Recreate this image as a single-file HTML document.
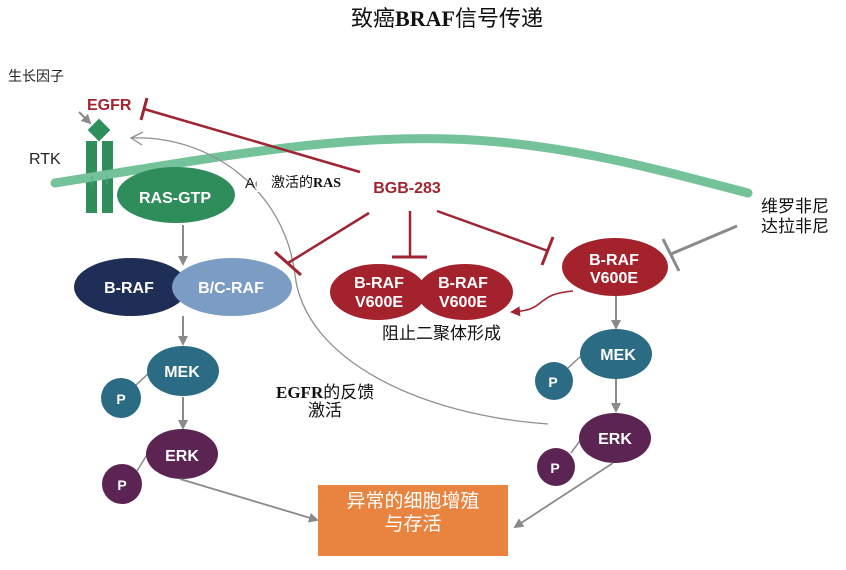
<!DOCTYPE html>
<html><head><meta charset="utf-8">
<style>
html,body{margin:0;padding:0;background:#fff;}
svg{display:block;}
.cj{font-family:"Liberation Sans","Noto Sans CJK SC",sans-serif;}
.nb{font-family:"Liberation Sans",Arial,sans-serif;font-weight:bold;fill:#fff;}
.tb{font-family:"Liberation Serif",serif;font-weight:bold;}
</style></head>
<body>
<svg width="846" height="570" viewBox="0 0 846 570" xmlns="http://www.w3.org/2000/svg">
<defs>
<marker id="ga" markerWidth="10" markerHeight="10" refX="8" refY="5" orient="auto" markerUnits="userSpaceOnUse">
<path d="M0,0 L10,5 L0,10 z" fill="#8a8a8a"/>
</marker>
<marker id="ra" markerWidth="10" markerHeight="10" refX="8" refY="5" orient="auto" markerUnits="userSpaceOnUse">
<path d="M0,0 L10,5 L0,10 z" fill="#a3222c"/>
</marker>
</defs>

<!-- title -->
<text x="447" y="26" text-anchor="middle" font-size="22" class="cj" fill="#111">致癌<tspan class="tb">BRAF</tspan>信号传递</text>

<!-- 生长因子 -->
<text x="8" y="81" font-size="14" class="cj" fill="#222">生长因子</text>

<!-- EGFR label -->
<text x="87" y="110" font-size="16" font-family="Liberation Sans,Arial,sans-serif" font-weight="bold" fill="#a3242e">EGFR</text>
<!-- small gray arrow -->
<line x1="79" y1="112" x2="90" y2="123" stroke="#8a8a8a" stroke-width="2" marker-end="url(#ga)"/>

<!-- RTK -->
<text x="29" y="164" font-size="16" font-family="Liberation Sans,Arial,sans-serif" fill="#222">RTK</text>

<!-- receptor bars -->
<rect x="86" y="141" width="11" height="72" fill="#2f8f5c"/>
<rect x="102" y="141" width="11" height="72" fill="#2f8f5c"/>
<rect x="91" y="122" width="16" height="16" fill="#2f8f5c" transform="rotate(45 99 130)"/>

<!-- membrane -->
<path d="M55,183 C200,160 330,135 450,139 C560,142 660,170 748,193" fill="none" stroke="#74c29a" stroke-width="9" stroke-linecap="round"/>
<line x1="92" y1="176" x2="92" y2="185" stroke="#5aa57e" stroke-width="1"/>
<line x1="107" y1="175" x2="107" y2="184" stroke="#5aa57e" stroke-width="1"/>

<!-- RAS-GTP -->
<ellipse cx="176" cy="195" rx="59" ry="28" fill="#2f8c5b"/>
<text x="175" y="203" text-anchor="middle" font-size="16" class="nb">RAS-GTP</text>

<!-- EGFR inhibitor (red) -->
<line x1="144" y1="109" x2="360" y2="172" stroke="#9e2531" stroke-width="2.5"/>
<line x1="141" y1="120" x2="147" y2="98" stroke="#9e2531" stroke-width="3"/>

<!-- gray feedback curve -->
<path d="M132,138 C210,135 285,190 295,275 C305,360 420,415 548,424" fill="none" stroke="#8f8f8f" stroke-width="1.3"/>
<path d="M143,132 L131,138 L142,145" fill="none" stroke="#8f8f8f" stroke-width="1.3"/>

<!-- Ac 激活的RAS -->
<text x="245" y="188" font-size="15" font-family="Liberation Sans,Arial,sans-serif" fill="#222">Ac</text>
<rect x="256.5" y="172" width="14" height="20" fill="#fff"/>
<text x="271" y="187" font-size="14" class="cj" fill="#111">激活的<tspan class="tb">RAS</tspan></text>

<!-- BGB-283 -->
<text x="407" y="193" text-anchor="middle" font-size="16" font-family="Liberation Sans,Arial,sans-serif" font-weight="bold" fill="#a3242e">BGB-283</text>

<!-- BGB inhibitors -->
<line x1="369" y1="213" x2="288" y2="263" stroke="#9e2531" stroke-width="2.5"/>
<line x1="275" y1="252" x2="301" y2="275" stroke="#9e2531" stroke-width="3"/>
<line x1="410" y1="211" x2="410" y2="257" stroke="#9e2531" stroke-width="2.5"/>
<line x1="392" y1="257" x2="427" y2="257" stroke="#9e2531" stroke-width="3"/>
<line x1="437" y1="211" x2="548" y2="251" stroke="#9e2531" stroke-width="2.5"/>
<line x1="553" y1="237" x2="542" y2="265" stroke="#9e2531" stroke-width="3"/>

<!-- 维罗非尼 inhibitor (gray) -->
<line x1="737" y1="226" x2="671" y2="254" stroke="#8a8a8a" stroke-width="3"/>
<line x1="663" y1="239" x2="679" y2="271" stroke="#8a8a8a" stroke-width="3"/>
<text x="761" y="212" font-size="17" class="cj" fill="#111">维罗非尼</text>
<text x="761" y="232" font-size="17" class="cj" fill="#111">达拉非尼</text>

<!-- left column arrows -->
<line x1="183" y1="225" x2="183" y2="264" stroke="#8a8a8a" stroke-width="2" marker-end="url(#ga)"/>
<line x1="183" y1="316" x2="183" y2="344" stroke="#8a8a8a" stroke-width="2" marker-end="url(#ga)"/>
<line x1="183" y1="397" x2="183" y2="428" stroke="#8a8a8a" stroke-width="2" marker-end="url(#ga)"/>

<!-- B-RAF / B/C-RAF -->
<ellipse cx="131" cy="287" rx="57" ry="29" fill="#1f2e57"/>
<ellipse cx="232" cy="287" rx="60" ry="29" fill="#7b9dc3"/>
<text x="129" y="293" text-anchor="middle" font-size="16" class="nb">B-RAF</text>
<text x="231" y="293" text-anchor="middle" font-size="16" class="nb">B/C-RAF</text>

<!-- MEK left -->
<line x1="135" y1="386" x2="150" y2="372" stroke="#8a8a8a" stroke-width="1.5"/>
<ellipse cx="183" cy="371" rx="36" ry="25" fill="#2b6b83"/>
<text x="182" y="377" text-anchor="middle" font-size="16" class="nb">MEK</text>
<circle cx="121" cy="398" r="20" fill="#2b6b83"/>
<text x="121" y="404" text-anchor="middle" font-size="14" class="nb">P</text>

<!-- ERK left -->
<line x1="137" y1="471" x2="148" y2="453" stroke="#8a8a8a" stroke-width="1.5"/>
<ellipse cx="182" cy="454" rx="36" ry="25" fill="#5b2452"/>
<text x="182" y="461" text-anchor="middle" font-size="16" class="nb">ERK</text>
<circle cx="122" cy="484" r="20" fill="#5b2452"/>
<text x="122" y="490" text-anchor="middle" font-size="14" class="nb">P</text>

<!-- arrow to box left -->
<line x1="180" y1="479" x2="317" y2="520" stroke="#8a8a8a" stroke-width="1.8" marker-end="url(#ga)"/>

<!-- dimer -->
<ellipse cx="378" cy="292" rx="48" ry="28" fill="#a3222c"/>
<ellipse cx="465" cy="292" rx="48" ry="28" fill="#a3222c"/>
<text x="379" y="288" text-anchor="middle" font-size="16" class="nb">B-RAF</text>
<text x="379" y="307" text-anchor="middle" font-size="16" class="nb">V600E</text>
<text x="463" y="288" text-anchor="middle" font-size="16" class="nb">B-RAF</text>
<text x="463" y="307" text-anchor="middle" font-size="16" class="nb">V600E</text>
<text x="382" y="339" font-size="17" class="cj" fill="#111">阻止二聚体形成</text>

<!-- right B-RAF V600E -->
<ellipse cx="615" cy="267" rx="53" ry="29" fill="#a3222c"/>
<text x="614" y="265" text-anchor="middle" font-size="16" class="nb">B-RAF</text>
<text x="614" y="283" text-anchor="middle" font-size="16" class="nb">V600E</text>

<!-- curved red arrow -->
<path d="M573,291 C552,293 548,297 540,303 C532,310 524,311 512,312" fill="none" stroke="#a3222c" stroke-width="1.5" marker-end="url(#ra)"/>

<!-- right column arrows -->
<line x1="616" y1="296" x2="616" y2="328" stroke="#8a8a8a" stroke-width="2" marker-end="url(#ga)"/>
<line x1="616" y1="379" x2="616" y2="411" stroke="#8a8a8a" stroke-width="2" marker-end="url(#ga)"/>

<!-- right MEK -->
<line x1="568" y1="368" x2="582" y2="355" stroke="#8a8a8a" stroke-width="1.5"/>
<ellipse cx="616" cy="354" rx="36" ry="25" fill="#2b6b83"/>
<text x="618" y="360" text-anchor="middle" font-size="16" class="nb">MEK</text>
<circle cx="554" cy="381" r="19" fill="#2b6b83"/>
<text x="553" y="387" text-anchor="middle" font-size="14" class="nb">P</text>

<!-- right ERK -->
<line x1="571" y1="453" x2="582" y2="438" stroke="#8a8a8a" stroke-width="1.5"/>
<ellipse cx="615" cy="438" rx="36" ry="25" fill="#5b2452"/>
<text x="615" y="444" text-anchor="middle" font-size="16" class="nb">ERK</text>
<circle cx="556" cy="467" r="19" fill="#5b2452"/>
<text x="555" y="473" text-anchor="middle" font-size="14" class="nb">P</text>

<!-- arrow to box right -->
<line x1="613" y1="463" x2="515" y2="527" stroke="#8a8a8a" stroke-width="1.8" marker-end="url(#ga)"/>

<!-- EGFR feedback label -->
<text x="276" y="398" font-size="17" class="cj" fill="#111"><tspan class="tb">EGFR</tspan>的反馈</text>
<text x="325" y="416" text-anchor="middle" font-size="17" class="cj" fill="#111">激活</text>

<!-- orange box -->
<rect x="318" y="485" width="190" height="71" fill="#e8843f"/>
<text x="413" y="507" text-anchor="middle" font-size="19" class="cj" fill="#fff">异常的细胞增殖</text>
<text x="413" y="530" text-anchor="middle" font-size="19" class="cj" fill="#fff">与存活</text>
</svg>
</body></html>
